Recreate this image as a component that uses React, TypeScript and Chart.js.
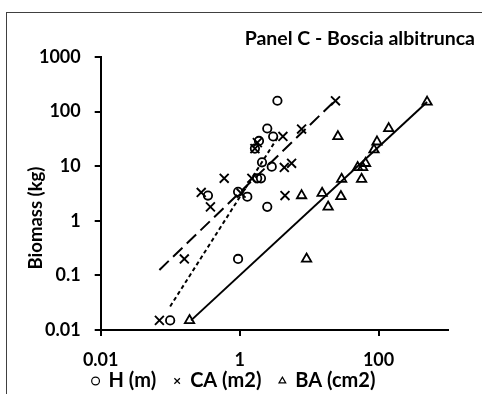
import { useEffect, useRef } from "react";
import { Chart, registerables } from "chart.js";

Chart.register(...registerables);

// ---- data ----
const xTicks = [0.01, 1, 100];
const yTicks = [0.01, 0.1, 1, 10, 100, 1000];

const hX = [0.1, 0.35, 0.95, 0.95, 1.29, 2.5, 3.5, 2.5, 3.04, 1.9, 1.66, 2.1, 2.9, 1.79, 2.03];
const hY = [0.015, 2.9, 0.2, 3.4, 2.76, 1.8, 158, 49, 35, 29, 21, 11.8, 9.8, 6.0, 6.0];

const caX = [0.07, 0.16, 0.38, 0.28, 0.6, 1.05, 1.5, 4.5, 1.66, 1.8, 4.2, 7.8, 24, 4.4, 5.6];
const caY = [0.015, 0.2, 1.8, 3.3, 6.0, 3.2, 6.0, 2.9, 21, 27, 35, 48, 158, 9.5, 11.3];

const baX = [0.19, 9.2, 7.8, 15.4, 18.8, 28.7, 29.4, 26, 50, 59, 65, 57, 86, 95, 140, 500];
const baY = [0.015, 0.2, 2.9, 3.2, 1.8, 2.8, 5.8, 35, 9.5, 9.5, 11.3, 5.8, 20, 28, 49, 150];

const hLineX = [0.1, 3.5];
const hLineY = [0.027, 33];
const caLineX = [0.07, 22];
const caLineY = [0.126, 145];
const baLineX = [0.2, 500];
const baLineY = [0.015, 150];

const seriesNames = ["H (m)", "CA (m2)", "BA (cm2)"];
const chartTitle = "Panel C - Boscia albitrunca";
const yTitle = "Biomass (kg)";

const FONT = "Lato, 'Open Sans', sans-serif";

const pts = (xs: number[], ys: number[]) => xs.map((x, i) => ({ x, y: ys[i] }));

const textPlugin = {
  id: "extraTexts",
  afterDraw(chart: any) {
    const { ctx, chartArea } = chart;
    ctx.save();
    ctx.fillStyle = "#000";
    ctx.font = `bold 19.5px ${FONT}`;
    ctx.textAlign = "right";
    ctx.textBaseline = "middle";
    ctx.fillText(chartTitle, chart.width - 7, 39);
    ctx.font = `bold 18.5px ${FONT}`;
    ctx.translate(36, chartArea.bottom - 112);
    ctx.rotate(-Math.PI / 2);
    ctx.textAlign = "center";
    ctx.fillText(yTitle, 0, 0);
    ctx.restore();
  },
};

export default function App() {
  const ref = useRef<HTMLCanvasElement | null>(null);

  useEffect(() => {
    if (!ref.current) return;
    const tickFont = { family: FONT, size: 18, weight: "bold" as const };
    const legendFont = { family: FONT, size: 20, weight: "bold" as const };
    const chart = new Chart(ref.current, {
      type: "scatter",
      data: {
        datasets: [
          {
            label: seriesNames[0],
            data: pts(hX, hY),
            pointStyle: "circle",
            pointRadius: 4.2,
            pointBorderWidth: 1.8,
            borderColor: "#000",
            backgroundColor: "rgba(0,0,0,0)",
          },
          {
            label: seriesNames[1],
            data: pts(caX, caY),
            pointStyle: "crossRot",
            pointRadius: 6.3,
            pointBorderWidth: 1.9,
            borderColor: "#000",
            backgroundColor: "rgba(0,0,0,0)",
          },
          {
            label: seriesNames[2],
            data: pts(baX, baY),
            pointStyle: "triangle",
            pointRadius: 5.4,
            pointBorderWidth: 1.8,
            borderColor: "#000",
            backgroundColor: "rgba(0,0,0,0)",
          },
          {
            label: "hfit",
            data: pts(hLineX, hLineY),
            showLine: true,
            pointRadius: 0,
            borderColor: "#000",
            borderWidth: 2,
            borderDash: [4, 3],
          },
          {
            label: "cafit",
            data: pts(caLineX, caLineY),
            showLine: true,
            pointRadius: 0,
            borderColor: "#000",
            borderWidth: 2,
            borderDash: [13, 6],
          },
          {
            label: "bafit",
            data: pts(baLineX, baLineY),
            showLine: true,
            pointRadius: 0,
            borderColor: "#000",
            borderWidth: 2,
          },
        ],
      },
      options: {
        animation: false,
        responsive: false,
        layout: { padding: { left: 20, right: 34, top: 57, bottom: -7 } },
        scales: {
          x: {
            type: "logarithmic",
            min: 0.01,
            max: 1000,
            afterBuildTicks: (s: any) => {
              s.ticks = xTicks.map((v) => ({ value: v }));
              // let the tick labels overflow the (short) axis box
              s._computeLabelArea = () => undefined;
            },
            afterFit: (s: any) => {
              s.height = 23;
            },
            ticks: {
              callback: (v: any) => String(v),
              font: tickFont,
              color: "#000",
              padding: 13,
              autoSkip: false,
              maxRotation: 0,
            },
            grid: {
              display: true,
              drawOnChartArea: false,
              drawTicks: true,
              tickLength: 6,
              color: "#000",
              lineWidth: 2,
            },
            border: { display: true, color: "#000", width: 2 },
          },
          y: {
            type: "logarithmic",
            min: 0.01,
            max: 1000,
            afterBuildTicks: (s: any) => {
              s.ticks = yTicks.map((v) => ({ value: v }));
            },
            afterFit: (s: any) => {
              s.width = 80.7;
            },
            ticks: {
              callback: (v: any) => String(v),
              font: tickFont,
              color: "#000",
              padding: 14,
              autoSkip: false,
            },
            grid: {
              display: true,
              drawOnChartArea: false,
              drawTicks: true,
              tickLength: 6,
              color: "#000",
              lineWidth: 2,
            },
            border: { display: true, color: "#000", width: 2 },
          },
        },
        plugins: {
          tooltip: { enabled: false },
          title: { display: false },
          legend: {
            display: true,
            position: "bottom",
            labels: {
              usePointStyle: true,
              boxWidth: 6,
              boxHeight: 5.5,
              padding: 18,
              color: "#000",
              font: legendFont,
              filter: (item: any) => item.datasetIndex < 3,
              generateLabels: (c: any) => {
                const items = Chart.defaults.plugins.legend.labels.generateLabels(c);
                return items.map((it: any) => ({ ...it, lineWidth: 1.2, fillStyle: "rgba(0,0,0,0)", strokeStyle: "#000" }));
              },
            },
          },
        },
      },
      plugins: [textPlugin],
    });
    return () => chart.destroy();
  }, []);

  return (
    <div style={{ position: "fixed", left: 0, top: 0, width: 482, height: 394, background: "#fff", overflow: "hidden" }}>
      <div
        style={{
          position: "absolute",
          left: 6,
          top: 12,
          width: 500,
          height: 420,
          border: "1px solid #404040",
          boxSizing: "border-box",
        }}
      />
      <canvas ref={ref} width={482} height={394} style={{ position: "absolute", left: 0, top: 0, display: "block" }} />
    </div>
  );
}
